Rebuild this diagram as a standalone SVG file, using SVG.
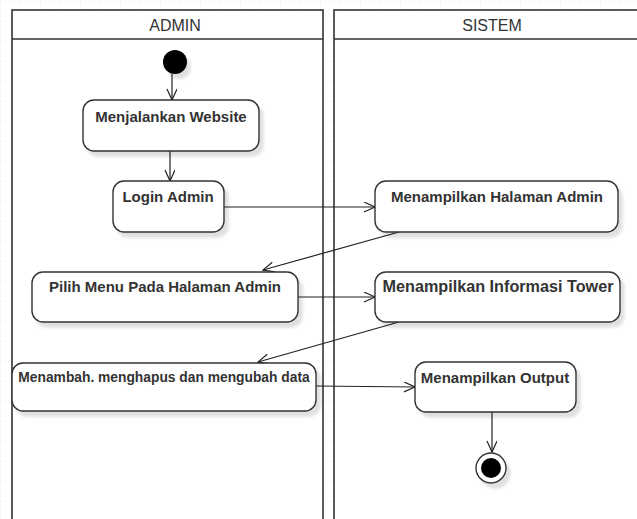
<svg xmlns="http://www.w3.org/2000/svg" width="637" height="519" viewBox="0 0 637 519">
<style>
.lane{fill:#fff;stroke:#333;stroke-width:1.6}
.hdr{font-family:"Liberation Sans",Arial,sans-serif;font-size:16px;fill:#333;text-anchor:middle}
.box{fill:#fff;stroke:#333;stroke-width:1.4;filter:url(#sh)}
.lbl{font-family:"Liberation Sans",Arial,sans-serif;font-size:15px;font-weight:bold;fill:#333;text-anchor:middle}
.edge{fill:none;stroke:#222;stroke-width:1.2;marker-end:url(#arr)}
</style>
<defs>
<pattern id="grid" width="20" height="20" patternUnits="userSpaceOnUse" x="0" y="1">
<path d="M20,0 L0,0 L0,20" fill="none" stroke="#f0f0f0" stroke-width="1"/>
</pattern>
<filter id="sh" x="-10%" y="-10%" width="130%" height="140%">
<feDropShadow dx="4" dy="5" stdDeviation="1.5" flood-color="#000" flood-opacity="0.12"/>
</filter>
<marker id="arr" markerUnits="userSpaceOnUse" markerWidth="14" markerHeight="12" refX="12" refY="5" orient="auto">
<path d="M1,0 L12,5 L1,10" fill="none" stroke="#222" stroke-width="1.2"/>
</marker>
</defs>
<rect width="637" height="519" fill="#fff"/>
<rect width="637" height="519" fill="url(#grid)"/>

<g id="lane-admin">
<rect class="lane" x="12" y="10" width="311" height="520"/>
<line x1="12" y1="39" x2="323" y2="39" stroke="#333" stroke-width="1.6"/>
<text class="hdr" x="175" y="31">ADMIN</text>
</g>
<g id="lane-sistem">
<rect class="lane" x="334" y="10" width="316" height="520"/>
<line x1="334" y1="39" x2="650" y2="39" stroke="#333" stroke-width="1.6"/>
<text class="hdr" x="492" y="31">SISTEM</text>
</g>

<g id="connectors">
<line class="edge" x1="172" y1="74" x2="172" y2="100"/>
<line class="edge" x1="170" y1="151" x2="170" y2="181"/>
<line class="edge" x1="224" y1="207" x2="375" y2="207"/>
<line class="edge" x1="399" y1="232" x2="263" y2="270"/>
<line class="edge" x1="298" y1="297" x2="375" y2="297"/>
<line class="edge" x1="399" y1="322" x2="258" y2="362"/>
<line class="edge" x1="316" y1="386" x2="415" y2="387"/>
<line class="edge" x1="492" y1="412" x2="492" y2="452"/>
</g>

<g id="start">
<circle cx="175" cy="62" r="12" fill="#000" filter="url(#sh)"/>
</g>
<g id="menjalankan-website">
<rect class="box" x="83" y="100" width="176" height="51" rx="11"/>
<text class="lbl" x="171" y="122">Menjalankan Website</text>
</g>
<g id="login-admin">
<rect class="box" x="113" y="181" width="111" height="51" rx="11"/>
<text class="lbl" x="168" y="202">Login Admin</text>
</g>
<g id="menampilkan-halaman-admin">
<rect class="box" x="375" y="181" width="243" height="51" rx="11"/>
<text class="lbl" x="497" y="202">Menampilkan Halaman Admin</text>
</g>
<g id="pilih-menu">
<rect class="box" x="32" y="272" width="266" height="50" rx="11"/>
<text class="lbl" x="165" y="292">Pilih Menu Pada Halaman Admin</text>
</g>
<g id="menampilkan-informasi-tower">
<rect class="box" x="375" y="272" width="245" height="50" rx="11"/>
<text class="lbl" x="498" y="292" style="font-size:16.2px">Menampilkan Informasi Tower</text>
</g>
<g id="menambah-data">
<rect class="box" x="12" y="363" width="304" height="48" rx="11"/>
<text class="lbl" x="164" y="382" style="font-size:13.8px">Menambah. menghapus dan mengubah data</text>
</g>
<g id="menampilkan-output">
<rect class="box" x="415" y="362" width="161" height="50" rx="11"/>
<text class="lbl" x="495" y="383">Menampilkan Output</text>
</g>
<g id="end">
<circle cx="491" cy="468" r="15" fill="#fff" stroke="#333" stroke-width="1.4" filter="url(#sh)"/>
<circle cx="491" cy="468" r="10" fill="#000"/>
</g>
</svg>
